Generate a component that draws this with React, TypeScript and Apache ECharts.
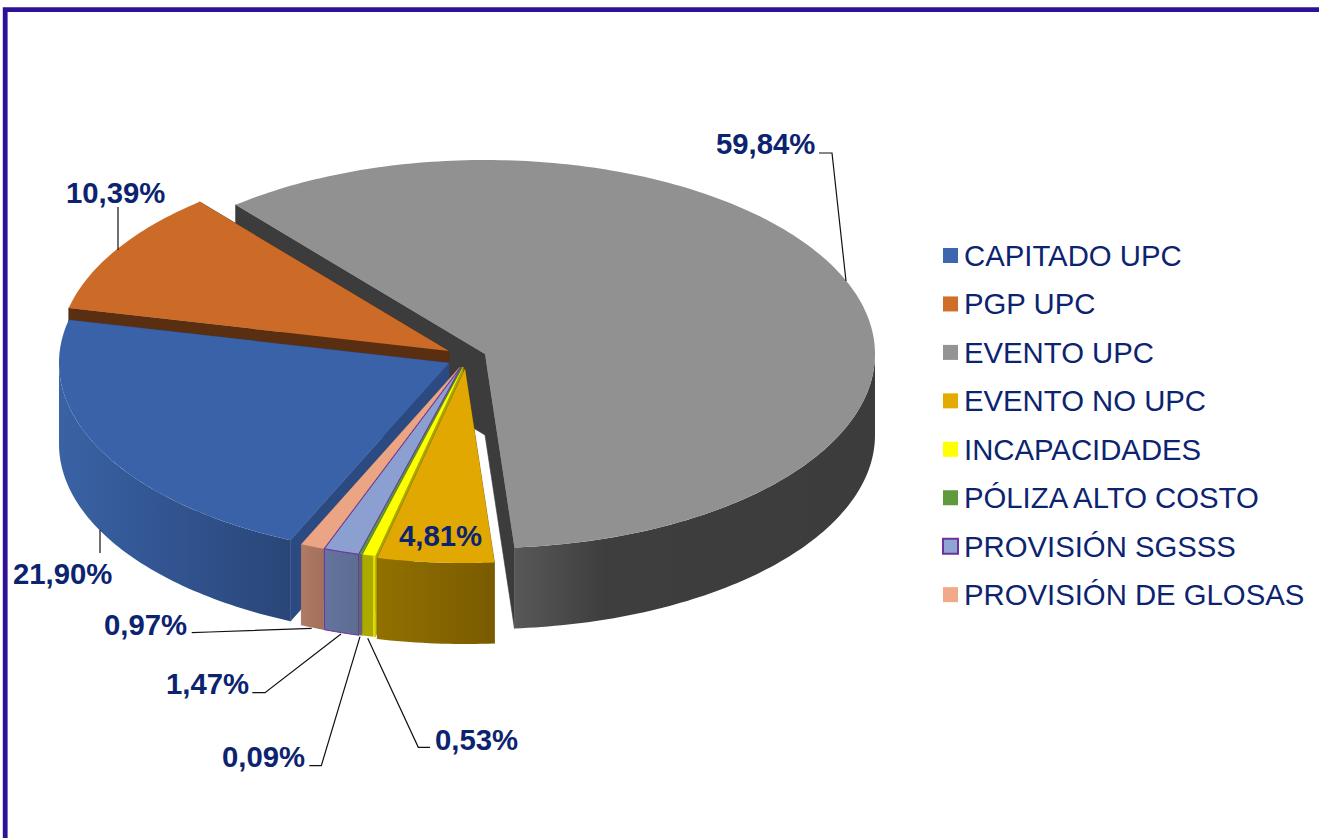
import React, { useEffect, useRef } from "react";
import * as echarts from "echarts";

const CATEGORIES = ["CAPITADO UPC", "PGP UPC", "EVENTO UPC", "EVENTO NO UPC", "INCAPACIDADES", "PÓLIZA ALTO COSTO", "PROVISIÓN SGSSS", "PROVISIÓN DE GLOSAS"];
const SHARES = [21.9, 10.39, 59.84, 4.81, 0.53, 0.09, 1.47, 0.97];

// Appearance and layout (clockwise degrees from the top of the ellipse)
const START_ANGLE = -156;
const RX = 390;
const RY = 194;
const DEPTH = 81;
const CENTERS = [[449, 363], [449, 351], [485, 354], [465, 369], [463, 367], [462, 367], [461, 367], [460, 367]];
const TOP_COLORS = ["#3A62A8", "#CC6B27", "#919191", "#E0A800", "#FFFF00", "#5F9A3C", "#8C9FD1", "#EBA585"];
const LEGEND_COLORS = ["#3C66AD", "#CF6D29", "#949494", "#E3AA00", "#FFFF00", "#5F9A3C", "#8FA5D3", "#F2A98A"];
const INNER_COLORS = ["#2B4A82", "#5A2E10", "#3C3C3C", "#7A5C00", "#A9A800", "#4C7A30", "#5F6F98", "#A87360"];
const WALL_STOPS: [number, string][][] = [
  [[0, "#3A62A4"], [0.45, "#325592"], [1, "#2A4678"]],
  [[0, "#5A2E10"], [1, "#5A2E10"]],
  [[0, "#585858"], [0.25, "#3E3E3E"], [1, "#3C3C3C"]],
  [[0, "#927100"], [1, "#795B00"]],
  [[0, "#ABAA00"], [0.82, "#ABAA00"], [0.82, "#DFDD00"], [1, "#DFDD00"]],
  [[0, "#6A5A80"], [1, "#6A5A80"]],
  [[0, "#64749E"], [1, "#5D6C92"]],
  [[0, "#AF7A66"], [1, "#A3705C"]],
];
const STROKES: (string | null)[] = [null, null, null, null, null, null, "#7030A0", null];
const PAINT_ORDER = [2, 1, 0, 7, 6, 5, 4, 3];
const LABEL_POS = [[13, 573], [66, 192], [716, 143], [399, 535], [435, 739], [222, 756], [166, 683], [104, 624]];
const LEADERS = [
  [[100, 530], [100, 553]],
  [[118, 207], [118, 250]],
  [[819, 153], [832, 153], [846, 281]],
  null,
  [[430, 747.3], [418.3, 747.3], [367.7, 638.3]],
  [[309.3, 765.7], [321.3, 765.7], [360, 636.7]],
  [[252.3, 692.7], [265, 692.7], [341, 634]],
  [[191.7, 632.7], [209.5, 632], [311.7, 628.3]],
];
const LABEL_COLOR = "#0C2470";
const FONT = '"Liberation Sans", Arial, sans-serif';

const pointAt = (c: number[], deg: number, dy = 0) => {
  const a = (deg * Math.PI) / 180;
  return [c[0] + RX * Math.sin(a), c[1] - RY * Math.cos(a) + dy];
};

const arcPoints = (c: number[], from: number, to: number, dy = 0) => {
  const n = Math.max(2, Math.ceil(Math.abs(to - from)));
  const pts: number[][] = [];
  for (let i = 0; i <= n; i++) pts.push(pointAt(c, from + ((to - from) * i) / n, dy));
  return pts;
};

const startOf = (idx: number) => {
  let sum = 0;
  for (let i = 0; i < idx; i++) sum += SHARES[i];
  return START_ANGLE + sum * 3.6;
};

const sliceRenderer = (idx: number) => (_params: any, api: any) => {
  const value = api.value(0);
  const from = startOf(idx);
  const to = from + value * 3.6;
  const c = CENTERS[idx];
  const stroke = STROKES[idx];
  const edge = stroke ? { stroke, lineWidth: 1 } : {};
  const children: any[] = [];
  const inner = INNER_COLORS[idx];
  const wallEdge = (deg: number) => {
    const p = pointAt(c, deg);
    return {
      type: "polygon",
      shape: { points: [c, p, [p[0], p[1] + DEPTH], [c[0], c[1] + DEPTH]] },
      style: { fill: inner, stroke: inner, lineWidth: 0.6 },
    };
  };
  children.push(wallEdge(from), wallEdge(to));
  // Only the front half of the rim faces the viewer.
  const segments: [number, number][] = [];
  for (const [a, b] of [[-270, -90], [90, 270], [450, 630]]) {
    const lo = Math.max(from, a);
    const hi = Math.min(to, b);
    if (hi > lo) segments.push([lo, hi]);
  }
  for (const [lo, hi] of segments) {
    const top = arcPoints(c, lo, hi);
    const bottom = arcPoints(c, hi, lo, DEPTH);
    children.push({
      type: "polygon",
      shape: { points: top.concat(bottom) },
      style: {
        fill: new echarts.graphic.LinearGradient(0, 0, 1, 0, WALL_STOPS[idx].map(([offset, color]) => ({ offset, color }))),
        ...edge,
      },
    });
  }
  children.push({
    type: "polygon",
    shape: { points: [c, ...arcPoints(c, from, to)] },
    style: { fill: TOP_COLORS[idx], ...edge },
  });
  return { type: "group", children };
};

const formatShare = (v: number) => v.toFixed(2).replace(".", ",") + "%";

export default function App() {
  const ref = useRef<HTMLDivElement>(null);
  useEffect(() => {
    const chart = echarts.init(ref.current!, null, { renderer: "svg" });
    const elements: any[] = [
      {
        type: "rect",
        shape: { x: 5.2, y: 9.7, width: 2000, height: 2000 },
        style: { fill: "none", stroke: "#2F1098", lineWidth: 4.8 },
        z: 20,
      },
    ];
    SHARES.forEach((v, i) => {
      const leader = LEADERS[i];
      if (leader) {
        elements.push({
          type: "polyline",
          shape: { points: leader },
          style: { fill: "none", stroke: "#111111", lineWidth: 1.2 },
          z: 20,
        });
      }
      elements.push({
        type: "text",
        x: LABEL_POS[i][0],
        y: LABEL_POS[i][1],
        style: {
          text: formatShare(v),
          font: `bold 29.3px ${FONT}`,
          fill: LABEL_COLOR,
          textVerticalAlign: "middle",
        },
        z: 21,
      });
    });
    chart.setOption({
      animation: false,
      backgroundColor: "#FFFFFF",
      legend: {
        orient: "vertical",
        left: 942,
        top: 240,
        padding: 0,
        selectedMode: false,
        icon: "rect",
        itemWidth: 15,
        itemHeight: 15,
        itemGap: 17.45,
        textStyle: {
          fontFamily: FONT,
          fontSize: 29.3,
          lineHeight: 31,
          color: LABEL_COLOR,
          padding: [0, 0, 0, 1],
        },
        data: CATEGORIES.map((name, i) => ({
          name,
          itemStyle: {
            color: LEGEND_COLORS[i],
            borderColor: STROKES[i] ?? "transparent",
            borderWidth: STROKES[i] ? 2 : 0,
          },
        })),
      },
      graphic: { elements },
      series: PAINT_ORDER.map((idx) => ({
        type: "custom",
        name: CATEGORIES[idx],
        coordinateSystem: "none",
        silent: true,
        itemStyle: { color: LEGEND_COLORS[idx] },
        renderItem: sliceRenderer(idx),
        data: [[SHARES[idx]]],
      })),
    });
    return () => chart.dispose();
  }, []);
  return <div ref={ref} style={{ position: "absolute", left: 0, top: 0, width: 1319, height: 838 }} />;
}
